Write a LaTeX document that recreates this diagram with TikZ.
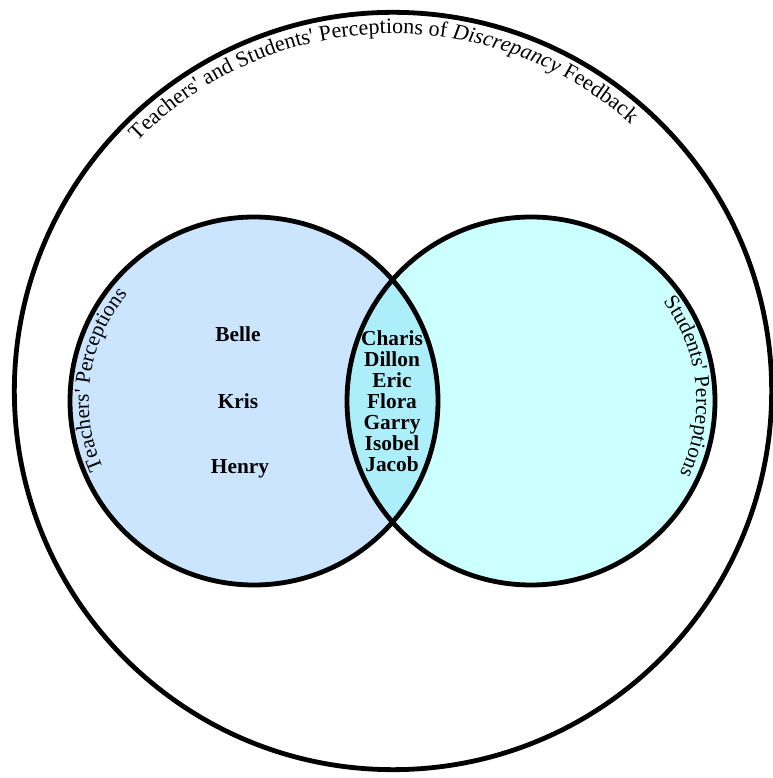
\documentclass[tikz,border=0pt]{standalone}
\usepackage{fontspec}
\setmainfont{Liberation Serif}[Ligatures=TeXOff]
\usetikzlibrary{decorations.text}
\definecolor{teacherfill}{RGB}{204,229,255}
\definecolor{studentfill}{RGB}{204,255,255}
\definecolor{sharedfill}{RGB}{172,238,250}
\begin{document}
\begin{tikzpicture}[x=0.75pt,y=0.75pt,
  ring/.style={line width=3.6pt, draw=black},
  names/.style={font=\fontsize{16}{15.75}\selectfont\bfseries, align=center, inner sep=0pt}
]
\useasboundingbox (0,0) rectangle (773,778);
\coordinate (outer) at (393,387);
\coordinate (teach) at (254,377);
\coordinate (stud) at (531,377);

% set fills, with the overlap shaded separately
\fill[teacherfill] (teach) circle[radius=138pt];
\fill[studentfill] (stud) circle[radius=138pt];
\begin{scope}
  \clip (teach) circle[radius=138pt];
  \fill[sharedfill] (stud) circle[radius=138pt];
\end{scope}

% outlines
\draw[ring] (outer) circle[radius=284pt];
\draw[ring] (teach) circle[radius=138pt];
\draw[ring] (stud) circle[radius=138pt];

% curved headings
\path[decorate, decoration={text along path, text align=center,
  text={|\fontsize{16.5}{18}\selectfont|Teachers' and Students' Perceptions of |\fontsize{16.5}{18}\selectfont\itshape|Discrepancy|\fontsize{16.5}{18}\selectfont\upshape| Feedback}}]
  (outer) ++(137:268pt) arc[start angle=137, end angle=47, radius=268pt];
\path[decorate, decoration={text along path, text align=center,
  text={|\fontsize{16}{18}\selectfont|Teachers' Perceptions}}]
  (teach) ++(204:124pt) arc[start angle=204, end angle=140, radius=124pt];
\path[decorate, decoration={text along path, text align=center,
  text={|\fontsize{16}{18}\selectfont|Students' Perceptions}}]
  (stud) ++(39:124pt) arc[start angle=39, end angle=-28, radius=124pt];

% participants
\node[names] (belle) at (238,444) {Belle};
\node[names] (kris) at (238,377) {Kris};
\node[names] (henry) at (240,309) {Henry};
\node[names] (shared) at (392,377) {Charis\\Dillon\\Eric\\Flora\\Garry\\Isobel\\Jacob};
\end{tikzpicture}
\end{document}
